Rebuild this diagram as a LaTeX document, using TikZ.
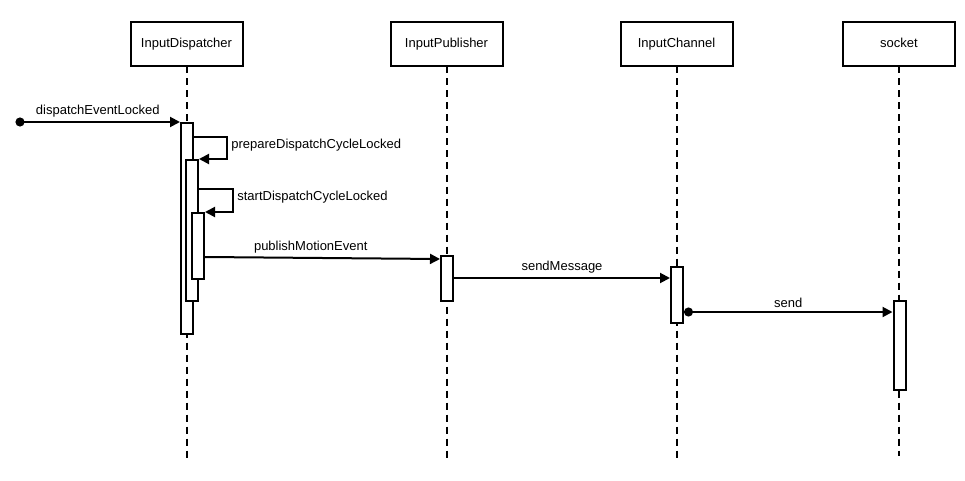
\documentclass[tikz,border=0pt]{standalone}
\usepackage{fontspec}
\setmainfont{Liberation Sans}
\usetikzlibrary{positioning, arrows.meta, calc}

\begin{document}
\begin{tikzpicture}[x=1pt, y=-1pt, node distance=117pt, >={Triangle[length=10pt, width=10pt]}, font=\fontsize{13}{15}\selectfont]
        \tikzstyle{lifehead} = [draw=black, rectangle, line width=2pt, minimum width=112pt, minimum height=44pt, outer sep=0pt, inner sep=2pt, text height=9.5pt, text depth=2.5pt]
        \tikzstyle{lifeline} = [line width=2pt, dash pattern=on 7pt off 5pt]
        \tikzstyle{actbar} = [draw=black, fill=white, rectangle, line width=2pt, minimum width=12pt, inner sep=0pt, anchor=north]
        \tikzstyle{msg} = [->, line width=2pt]
        \tikzstyle{found} = [{Circle[length=9pt]}->, line width=2pt]

        \useasboundingbox (0,0) rectangle (965,481);

        % heads
        \node[lifehead] (disp) at (186.5,44.5) {InputDispatcher};
        \node[lifehead, right=148pt of disp] (pub) {InputPublisher};
        \node[lifehead, right=118pt of pub] (chan) {InputChannel};
        \node[lifehead, right=110.5pt of chan] (sock) {socket};

        % lifelines
        \draw[lifeline] (disp.south) -- (disp |- 0,460);
        \draw[lifeline] (pub.south) -- (pub |- 0,460);
        \draw[lifeline] (chan.south) -- (chan |- 0,460);
        \draw[lifeline] (sock.south) -- (sock |- 0,456);

        % activation bars
        \node[actbar, minimum height=211pt] (d1) at (187,122) {};
        \node[actbar, minimum height=141pt] (d2) at (192,159) {};
        \node[actbar, minimum height=66pt] (d3) at (198,212) {};
        \node[actbar, minimum height=45pt] (pb) at (447,255) {};
        \node[actbar, minimum height=56pt] (cb) at (677,266) {};
        \node[actbar, minimum height=89pt] (sb) at (899.5,300) {};

        % messages
        \coordinate (entry) at (15.5,122);
        \draw[found] (entry) -- (d1.north west) node[midway, above] {dispatchEventLocked};
        \draw[msg] ($(d1.north east)+(0,15)$) -- ++(33,0) |- (d2.north east) node[pos=0.25, right, yshift=3pt] {prepareDispatchCycleLocked};
        \draw[msg] ($(d2.north east)+(0,30)$) -- ++(34,0) |- (d3.north east) node[pos=0.25, right, yshift=3pt] {startDispatchCycleLocked};
        \draw[msg] ($(d3.north east)+(0,45)$) -- ($(pb.north west)+(0,4)$) node[pos=0.45, above] {publishMotionEvent};
        \draw[msg] ($(pb.north east)+(0,23)$) -- ($(cb.north west)+(0,12)$) node[midway, above] {sendMessage};
        \draw[found] ($(cb.north east)+(0,46)$) -- ($(sb.north west)+(0,12)$) node[midway, above] {send};
    \end{tikzpicture}
\end{document}
